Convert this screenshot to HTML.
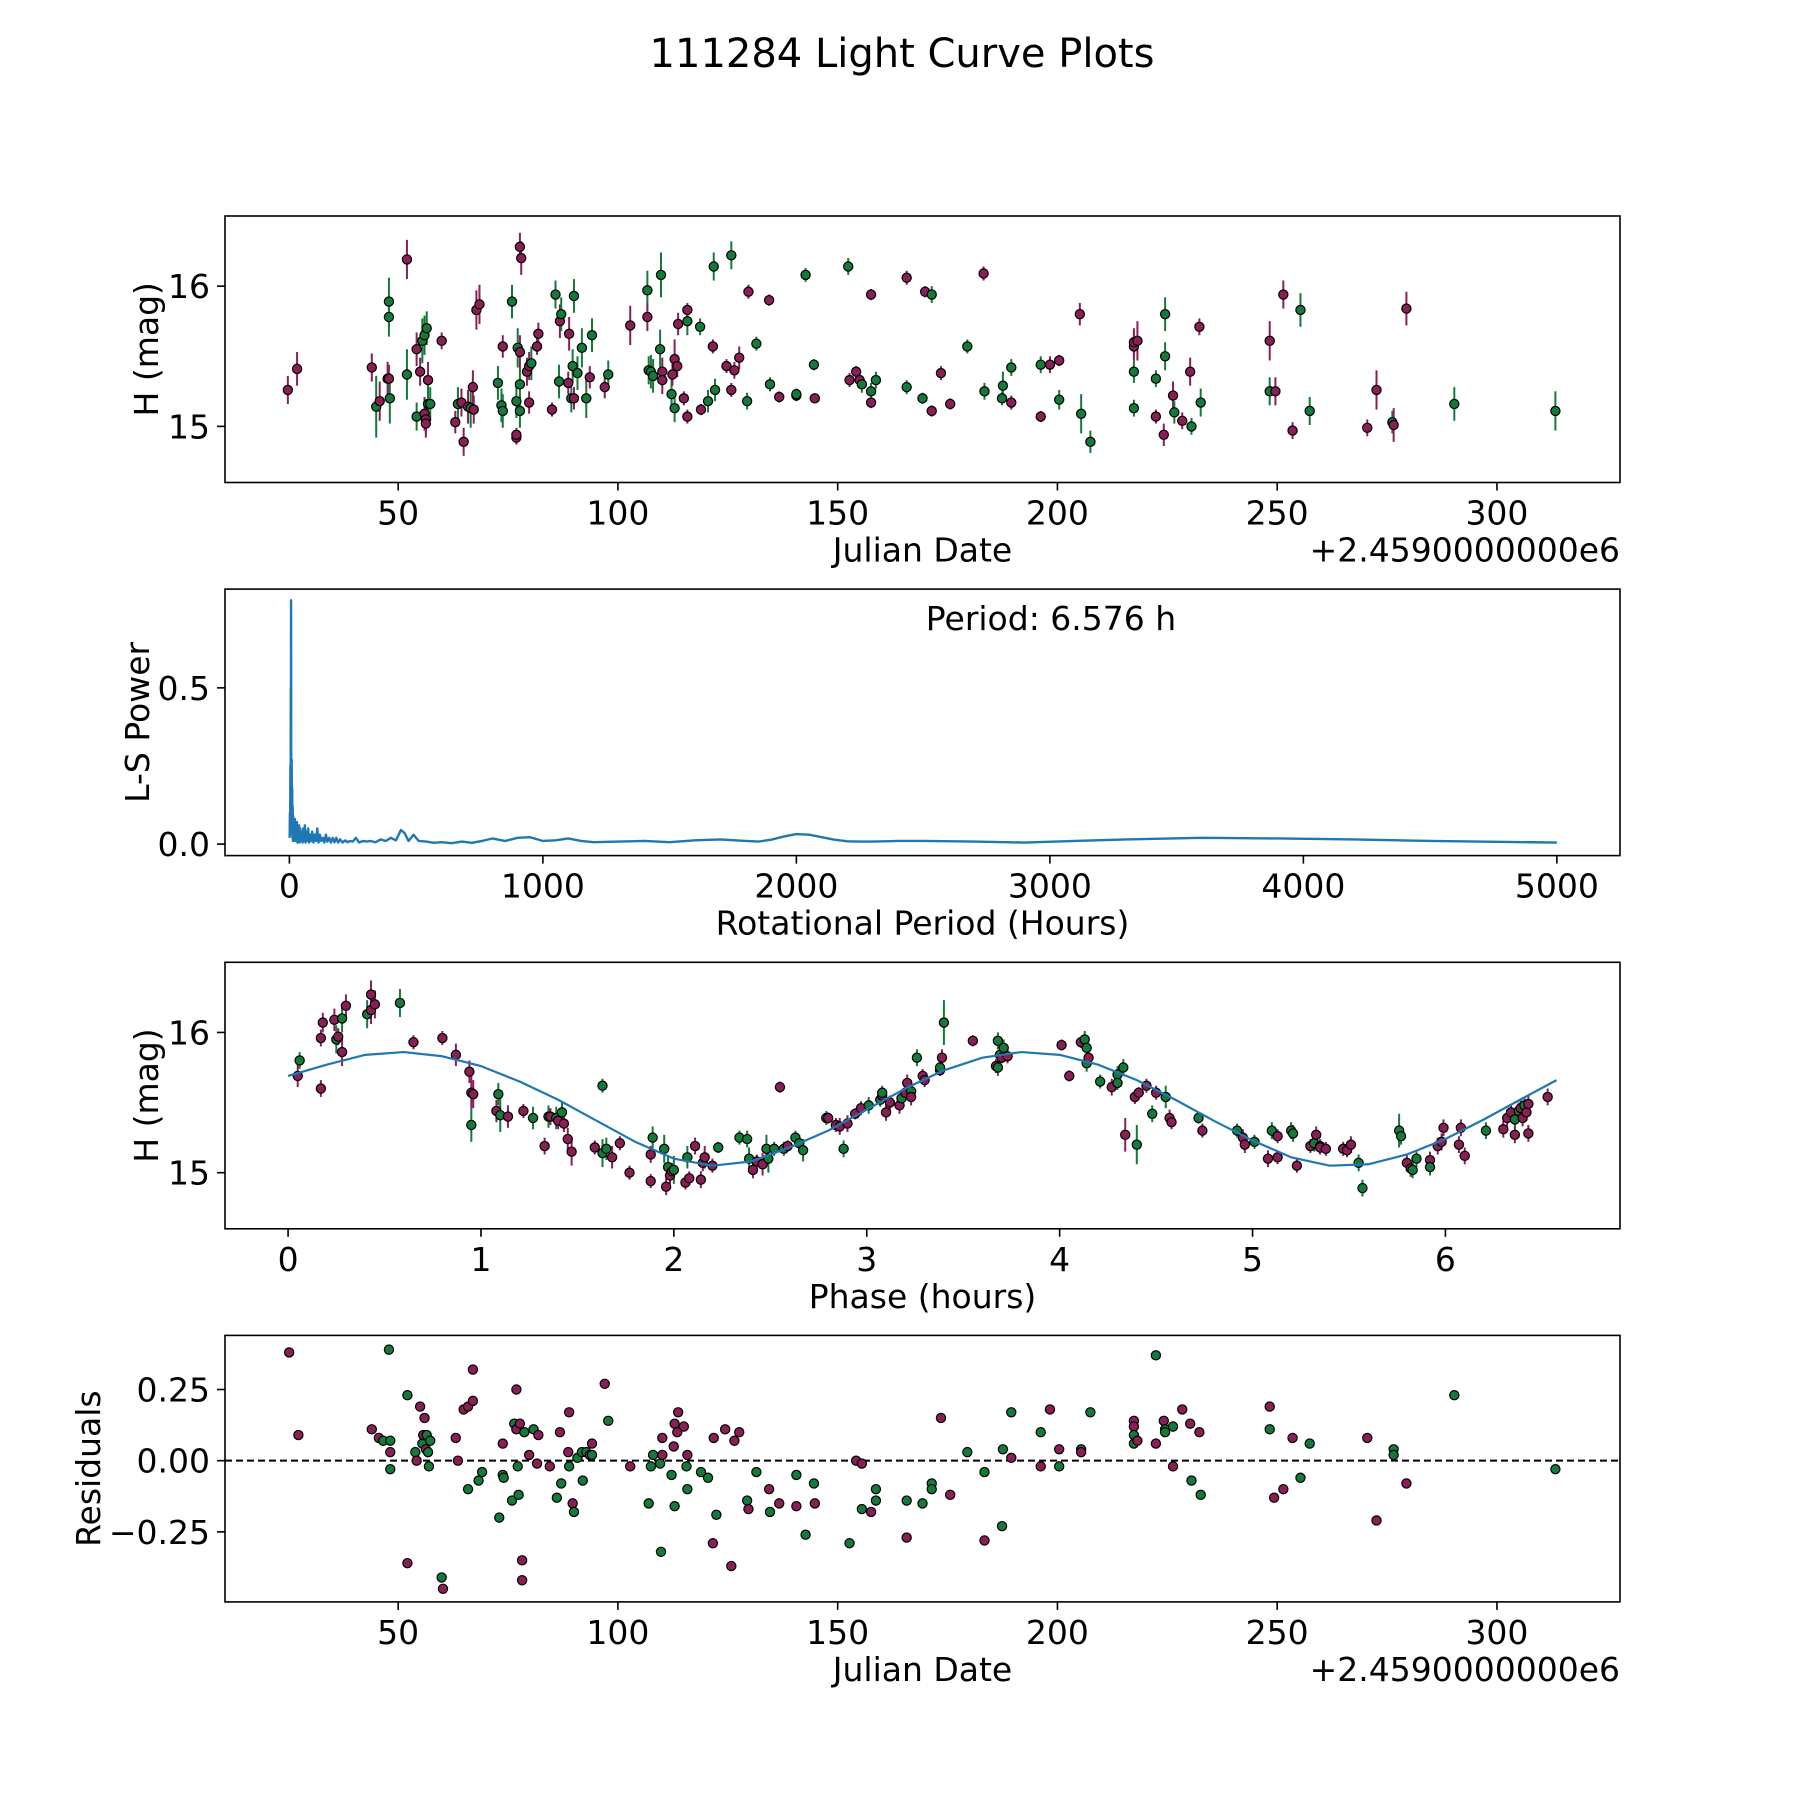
<!DOCTYPE html>
<html><head><meta charset="utf-8"><style>
html,body{margin:0;padding:0;background:#fff;}
svg{display:block;font-family:"DejaVu Sans","Liberation Sans",sans-serif;}
</style></head><body>
<svg id="fig" width="1800" height="1800" viewBox="0 0 1800 1800" xmlns="http://www.w3.org/2000/svg">
<rect width="1800" height="1800" fill="#fff"/>
<text x="902" y="67" font-size="40" text-anchor="middle">111284 Light Curve Plots</text>
</svg>
<script>
// ---------- data ----------
const lcJD = [24.9,27.0,44.0,45.0,45.8,47.6,47.9,47.9,47.9,48.1,52.0,52.0,54.2,54.2,55.0,55.5,56.0,56.0,56.3,56.3,56.5,56.8,56.8,57.3,59.9,63.0,63.6,64.4,64.9,65.9,66.5,67.0,67.2,67.8,68.5,72.7,73.5,73.8,73.8,75.9,76.9,76.9,76.9,77.2,77.7,78.0,77.7,77.7,77.7,79.3,79.8,79.8,80.3,81.6,81.9,85.0,85.8,86.6,86.8,87.1,88.7,88.9,89.4,89.7,90.0,90.0,90.8,91.8,92.8,93.6,94.1,97.0,97.8,102.8,106.7,106.7,107.0,107.5,108.0,109.6,109.8,110.1,110.1,112.2,112.4,112.9,112.9,113.5,113.7,115.0,115.8,115.8,115.8,118.7,118.9,120.5,121.6,121.8,122.1,124.7,125.8,125.8,126.5,127.6,129.4,129.7,131.5,134.4,134.6,136.7,140.6,140.6,142.7,144.6,144.8,152.4,152.7,154.2,155.0,155.5,157.6,157.6,158.7,157.6,165.7,165.7,169.3,169.9,171.4,171.4,173.5,175.6,179.5,183.2,183.4,187.4,187.6,189.5,189.5,196.2,196.2,198.3,200.4,200.4,205.1,205.4,207.5,217.4,217.4,217.4,217.4,218.2,222.4,222.4,224.2,224.5,224.5,226.3,226.6,228.4,230.2,230.5,232.3,232.6,248.3,248.3,249.6,251.4,253.5,255.3,257.4,270.5,272.6,276.2,276.5,279.4,290.3,313.3];
const lcMag = [15.26,15.41,15.42,15.14,15.18,15.34,15.34,15.78,15.89,15.20,16.19,15.37,15.55,15.07,15.39,15.61,15.65,15.09,15.05,15.02,15.70,15.33,15.16,15.16,15.61,15.03,15.16,15.17,14.89,15.14,15.13,15.28,15.12,15.83,15.87,15.31,15.15,15.11,15.57,15.89,14.92,14.94,15.18,15.56,16.28,16.20,15.53,15.30,15.11,15.39,15.43,15.17,15.45,15.57,15.66,15.12,15.94,15.32,15.75,15.80,15.31,15.66,15.20,15.43,15.93,15.20,15.38,15.56,15.20,15.35,15.65,15.28,15.37,15.72,15.97,15.78,15.40,15.39,15.36,15.55,16.08,15.39,15.33,15.23,15.37,15.13,15.48,15.43,15.73,15.20,15.07,15.75,15.83,15.71,15.12,15.18,15.57,16.14,15.26,15.43,15.26,16.22,15.40,15.49,15.18,15.96,15.59,15.90,15.30,15.21,15.22,15.23,16.08,15.44,15.20,16.14,15.33,15.39,15.33,15.30,15.17,15.25,15.33,15.94,16.06,15.28,15.20,15.96,15.11,15.94,15.38,15.16,15.57,16.09,15.25,15.20,15.29,15.17,15.42,15.07,15.44,15.44,15.47,15.19,15.80,15.09,14.89,15.57,15.60,15.39,15.13,15.61,15.34,15.07,14.94,15.80,15.50,15.22,15.10,15.04,15.39,15.00,15.71,15.17,15.61,15.25,15.25,15.94,14.97,15.83,15.11,14.99,15.26,15.03,15.01,15.84,15.16,15.11];
const lcErr = [0.1,0.12,0.1,0.22,0.14,0.12,0.1,0.14,0.17,0.18,0.14,0.18,0.12,0.1,0.1,0.16,0.14,0.12,0.1,0.1,0.12,0.13,0.14,0.12,0.06,0.08,0.12,0.1,0.1,0.12,0.14,0.12,0.1,0.14,0.14,0.12,0.12,0.12,0.08,0.12,0.05,0.05,0.12,0.14,0.1,0.12,0.12,0.12,0.12,0.1,0.1,0.08,0.12,0.06,0.08,0.05,0.1,0.12,0.12,0.12,0.08,0.12,0.1,0.12,0.12,0.08,0.12,0.14,0.14,0.08,0.12,0.08,0.1,0.14,0.14,0.1,0.1,0.12,0.12,0.14,0.16,0.1,0.1,0.12,0.08,0.1,0.14,0.08,0.08,0.05,0.05,0.1,0.05,0.06,0.04,0.08,0.05,0.1,0.08,0.05,0.05,0.1,0.06,0.08,0.06,0.05,0.05,0.04,0.05,0.04,0.04,0.04,0.05,0.04,0.03,0.06,0.05,0.04,0.05,0.06,0.04,0.06,0.06,0.04,0.05,0.05,0.04,0.04,0.04,0.06,0.05,0.04,0.05,0.05,0.06,0.05,0.1,0.05,0.06,0.04,0.06,0.06,0.04,0.07,0.08,0.14,0.08,0.1,0.1,0.08,0.06,0.14,0.06,0.05,0.08,0.12,0.1,0.1,0.08,0.06,0.1,0.06,0.06,0.1,0.14,0.1,0.1,0.1,0.06,0.12,0.1,0.06,0.14,0.08,0.12,0.12,0.12,0.14];
const lcBandHead = "pppgpppggg"+"pgpgpggppp"+"gpggppgppp"+"gppppgggpg"+"ppggpppggp"+"ppgpppggpg"+"ppgggpgggp"+"gpgpgpgggg"+"gppgpgpppp"+"pgpgpgpggp"+"pgppgpgpgp"+"pgggpgpppg"+"pggppggppg"+"ppgpgggpgp"+"gppgpggppg"+"gpgppggpgp"+"pgpgpgpgpp"+"pggppgpgpp"+"ggpgg";
const lcBandTail = "pgpppggppgppgg";
const lcBand = lcBandHead.slice(0, lcJD.length - lcBandTail.length) + lcBandTail;

const phX = [0.05,0.06,0.17,0.17,0.18,0.24,0.25,0.26,0.28,0.28,0.30,0.41,0.43,0.43,0.45,0.58,0.65,0.80,0.87,0.94,0.95,0.96,0.95,1.08,1.09,1.10,1.14,1.22,1.27,1.33,1.35,1.36,1.39,1.40,1.42,1.43,1.45,1.47,1.59,1.63,1.63,1.65,1.68,1.72,1.77,1.88,1.88,1.89,1.95,1.96,1.97,1.98,1.99,2.00,2.06,2.07,2.08,2.11,2.14,2.15,2.16,2.20,2.23,2.34,2.38,2.39,2.41,2.43,2.46,2.48,2.49,2.52,2.55,2.57,2.59,2.63,2.65,2.67,2.79,2.80,2.84,2.86,2.88,2.90,2.94,2.97,3.01,3.07,3.08,3.08,3.10,3.12,3.17,3.18,3.20,3.21,3.23,3.23,3.26,3.29,3.30,3.38,3.38,3.39,3.40,3.55,3.67,3.68,3.68,3.69,3.70,3.71,3.73,4.01,4.05,4.11,4.13,4.14,4.14,4.15,4.21,4.27,4.30,4.30,4.33,4.34,4.39,4.40,4.41,4.45,4.48,4.50,4.55,4.57,4.58,4.72,4.74,4.92,4.95,4.96,5.01,5.08,5.10,5.13,5.13,5.20,5.21,5.23,5.30,5.32,5.33,5.35,5.35,5.38,5.47,5.49,5.51,5.55,5.57,5.76,5.77,5.80,5.82,5.83,5.85,5.92,5.92,5.96,5.98,5.99,6.07,6.08,6.10,6.21,6.30,6.32,6.34,6.36,6.36,6.38,6.39,6.40,6.41,6.42,6.43,6.43,6.53];
const phMag = [15.69,15.80,15.60,15.96,16.07,16.09,15.95,15.97,16.10,15.86,16.19,16.13,16.16,16.27,16.20,16.21,15.93,15.96,15.84,15.72,15.57,15.56,15.34,15.44,15.56,15.41,15.40,15.44,15.39,15.19,15.40,15.40,15.39,15.37,15.43,15.35,15.24,15.15,15.18,15.62,15.14,15.17,15.11,15.21,15.00,15.13,14.94,15.25,15.17,14.90,15.04,14.98,15.01,15.02,14.93,15.11,14.96,15.19,14.95,15.07,15.11,15.05,15.18,15.25,15.24,15.10,15.02,15.08,15.06,15.17,15.10,15.17,15.61,15.17,15.19,15.25,15.21,15.16,15.39,15.39,15.34,15.33,15.17,15.35,15.42,15.46,15.48,15.52,15.55,15.57,15.43,15.50,15.48,15.53,15.57,15.64,15.58,15.54,15.82,15.69,15.66,15.73,15.75,15.82,16.07,15.94,15.76,15.75,15.94,15.84,15.82,15.89,15.83,15.91,15.69,15.93,15.95,15.89,15.78,15.82,15.65,15.61,15.70,15.64,15.75,15.27,15.54,15.20,15.57,15.62,15.42,15.57,15.54,15.39,15.36,15.39,15.30,15.30,15.25,15.20,15.22,15.10,15.30,15.11,15.26,15.30,15.28,15.05,15.19,15.21,15.27,15.19,15.18,15.17,15.17,15.16,15.20,15.07,14.89,15.30,15.26,15.07,15.03,15.02,15.10,15.09,15.04,15.19,15.22,15.32,15.20,15.32,15.12,15.30,15.31,15.39,15.43,15.38,15.27,15.44,15.46,15.39,15.48,15.43,15.49,15.28,15.54];
const phBand = "pgppppgpgp"+"pgpppgpppp"+"ppgpggppgp"+"gpgpgppppg"+"ggpppppggp"+"gppgpgpppp"+"ppggggpppg"+"ggpgpggggp"+"ppgpppggpg"+"pppgppgpgp"+"ppgpgppggg"+"pgppppgggp"+"gpgggppgpp"+"gpgppgpgpp"+"gpgppggppg"+"pgpppppggg"+"gppggpgppp"+"pppgpppgpg"+"ppgpppp";
const phErr = [0.08,0.06,0.06,0.06,0.07,0.08,0.1,0.06,0.1,0.1,0.08,0.1,0.1,0.1,0.1,0.1,0.05,0.05,0.08,0.08,0.12,0.1,0.12,0.08,0.08,0.12,0.08,0.05,0.08,0.06,0.08,0.06,0.08,0.06,0.08,0.06,0.08,0.1,0.05,0.05,0.1,0.08,0.08,0.05,0.05,0.06,0.05,0.08,0.1,0.06,0.08,0.06,0.06,0.1,0.05,0.08,0.05,0.06,0.06,0.06,0.08,0.05,0.04,0.05,0.06,0.08,0.06,0.05,0.08,0.1,0.1,0.05,0.04,0.05,0.04,0.05,0.06,0.08,0.05,0.04,0.05,0.06,0.06,0.06,0.04,0.05,0.06,0.05,0.06,0.05,0.06,0.05,0.06,0.06,0.06,0.06,0.06,0.06,0.06,0.05,0.05,0.04,0.05,0.06,0.16,0.04,0.05,0.06,0.06,0.06,0.04,0.06,0.05,0.04,0.04,0.04,0.06,0.08,0.06,0.05,0.05,0.06,0.06,0.05,0.06,0.12,0.05,0.14,0.04,0.05,0.06,0.05,0.08,0.06,0.05,0.04,0.05,0.05,0.06,0.06,0.05,0.06,0.06,0.05,0.05,0.06,0.06,0.05,0.05,0.06,0.06,0.05,0.05,0.05,0.05,0.05,0.06,0.06,0.06,0.12,0.06,0.06,0.06,0.06,0.06,0.06,0.06,0.06,0.06,0.06,0.06,0.06,0.06,0.06,0.06,0.06,0.06,0.06,0.06,0.06,0.06,0.06,0.06,0.06,0.06,0.06,0.06];

const fitPhase = [0,0.2,0.4,0.6,0.8,1.0,1.2,1.4,1.6,1.8,2.0,2.2,2.4,2.6,2.8,3.0,3.2,3.4,3.6,3.8,4.0,4.2,4.4,4.6,4.8,5.0,5.2,5.4,5.6,5.8,6.0,6.2,6.4,6.576];
const fitMag = [15.69,15.77,15.84,15.86,15.83,15.76,15.65,15.52,15.37,15.22,15.10,15.05,15.08,15.18,15.30,15.45,15.60,15.73,15.82,15.86,15.84,15.77,15.66,15.52,15.37,15.23,15.11,15.05,15.06,15.13,15.24,15.38,15.53,15.66];

const lsPeriod = [1,2,3,4,5,5.5,6,6.3,6.576,6.9,7.3,8,9,10,11,12,13,14,15,16,17,18,19,20,22,24,26,28,30,32,34,36,38,40,43,46,49,52,55,58,61,64,67,70,74,78,82,86,90,95,100,105,110,115,120,126,132,138,144,150,157,164,171,178,185,192,200,210,220,230,240,250,262,275,290,305,320,340,360,380,400,420,440,455,470,490,510,540,570,600,640,680,720,760,800,850,900,950,1000,1050,1100,1150,1200,1300,1400,1500,1600,1700,1800,1850,1900,1950,2000,2050,2100,2150,2200,2250,2300,2400,2500,2700,2900,3100,3300,3600,3900,4200,4500,4800,5000];
const lsPower = [0.02,0.1,0.04,0.25,0.08,0.5,0.28,0.62,0.78,0.55,0.2,0.04,0.27,0.03,0.18,0.02,0.12,0.01,0.09,0.02,0.07,0.01,0.06,0.01,0.08,0.01,0.05,0.01,0.07,0.005,0.05,0.01,0.06,0.005,0.05,0.01,0.04,0.005,0.05,0.01,0.06,0.005,0.04,0.01,0.05,0.005,0.03,0.01,0.04,0.005,0.03,0.01,0.05,0.005,0.03,0.01,0.02,0.005,0.03,0.008,0.02,0.005,0.02,0.006,0.02,0.005,0.015,0.005,0.012,0.006,0.01,0.008,0.02,0.005,0.01,0.008,0.01,0.006,0.015,0.01,0.02,0.012,0.045,0.035,0.01,0.03,0.01,0.008,0.004,0.006,0.003,0.008,0.004,0.01,0.018,0.01,0.02,0.022,0.01,0.012,0.018,0.01,0.006,0.008,0.01,0.006,0.012,0.015,0.01,0.008,0.014,0.024,0.032,0.03,0.022,0.014,0.009,0.008,0.008,0.01,0.01,0.008,0.005,0.01,0.015,0.02,0.018,0.015,0.01,0.007,0.005];

const resJD = [25.2,27.3,44.0,45.6,46.6,47.9,48.2,48.2,48.2,52.1,52.1,53.9,54.2,55.0,55.5,55.7,56.0,56.3,56.5,56.8,57.0,57.3,59.9,60.2,63.1,63.6,64.9,65.9,65.9,67.0,67.0,68.3,69.1,73.0,73.8,73.8,74.0,75.9,76.4,76.9,76.9,77.2,77.4,77.7,78.2,78.2,78.7,79.8,80.8,81.6,81.9,84.5,86.1,86.8,87.1,88.7,88.9,88.9,89.7,90.0,90.8,91.8,92.0,92.8,93.6,94.1,94.1,97.0,97.8,102.8,107.0,107.5,108.0,109.6,109.8,110.1,110.1,112.2,112.7,112.9,112.9,113.5,113.7,115.0,115.6,115.8,115.8,118.9,120.5,121.6,121.8,122.4,124.4,125.8,126.5,127.6,129.4,129.7,131.5,134.4,134.6,136.7,140.6,140.6,142.7,144.6,144.8,152.7,154.2,155.5,155.5,157.6,158.7,158.7,165.7,165.7,169.3,171.4,171.4,173.5,175.6,179.5,183.4,183.4,187.4,187.6,189.5,189.5,196.2,196.2,198.3,200.4,200.4,205.4,205.4,207.5,217.4,217.4,217.4,217.4,218.2,222.4,222.4,224.2,224.5,224.5,226.3,226.3,228.4,230.2,230.5,232.3,232.6,248.3,248.3,249.3,251.4,253.5,255.3,257.4,270.5,272.6,276.5,276.5,279.4,290.3,313.3];
const resVal = [0.38,0.09,0.11,0.08,0.07,0.39,0.07,0.03,-0.03,0.23,-0.36,0.03,0.00,0.19,0.06,0.09,0.15,0.04,0.09,0.03,-0.02,0.07,-0.41,-0.45,0.08,0.00,0.18,0.19,-0.10,0.32,0.21,-0.07,-0.04,-0.20,-0.05,0.06,-0.06,-0.14,0.13,0.25,0.11,-0.02,-0.12,0.13,-0.35,-0.42,0.10,0.02,0.11,-0.01,0.09,-0.02,-0.13,0.10,-0.08,0.03,-0.02,0.17,-0.15,-0.18,0.01,0.03,-0.07,0.03,0.02,0.06,0.02,0.27,0.14,-0.02,-0.15,-0.02,0.02,-0.01,-0.32,0.08,0.02,-0.05,0.05,-0.16,0.13,0.10,0.17,0.12,-0.02,-0.10,0.02,-0.04,-0.06,-0.29,0.08,-0.19,0.11,-0.37,0.07,0.10,-0.14,-0.17,-0.04,-0.10,-0.18,-0.15,-0.05,-0.16,-0.26,-0.08,-0.15,-0.29,0.00,-0.01,-0.17,-0.18,-0.10,-0.14,-0.14,-0.27,-0.15,-0.08,-0.10,0.15,-0.12,0.03,-0.04,-0.28,-0.23,0.04,0.17,0.01,0.10,-0.02,0.18,0.04,-0.02,0.04,0.03,0.17,0.14,0.12,0.09,0.06,0.07,0.37,0.06,0.14,0.11,0.10,0.12,-0.02,0.18,0.13,-0.07,0.10,-0.12,0.19,0.11,-0.13,-0.10,0.08,-0.06,0.06,0.08,-0.21,0.04,0.02,-0.08,0.23,-0.03];
const resBandHead = "ppppgggpgg"+"pgppgpppgg"+"gggpppppgp"+"pggggpgggp"+"pggpppgpgp"+"ppgpgpgppg"+"ggggppgpgp"+"gggggppgpg"+"ppppggpggp"+"pgppppgpgp"+"gpgpggpgpp"+"gpgggpgggp"+"pggpgggpgp"+"ppggpgppgg"+"pgppgggppp"+"gpgpgpppgg"+"ppggpgg";
const resBandTail = "pgpppggppggpgg";
const resBand = resBandHead.slice(0, resJD.length - resBandTail.length) + resBandTail;

// ---------- helpers ----------
const SVGNS = "http://www.w3.org/2000/svg";
const fig = document.getElementById('fig');
const PURPLE = "#8a1f56", GREEN = "#137a3a", BLUE = "#1f77b4";
function el(tag, attrs, parent) {
  const e = document.createElementNS(SVGNS, tag);
  for (const k in attrs) e.setAttribute(k, attrs[k]);
  (parent || fig).appendChild(e);
  return e;
}
const L = 225, R = 1620, W = R - L, H = 266.5;
const tops = [216, 589.1, 962.3, 1335.4];
function scale(d0, d1, r0, r1) { return v => r0 + (v - d0) / (d1 - d0) * (r1 - r0); }
const FS = 33;

function axesFrame(top, name) {
  const g = el('g', {});
  
  
  return g;
}
function drawBorder(g, top) {
  const r = el('rect', {x: L, y: top, width: W, height: H, fill: 'none', stroke: '#000', 'stroke-width': 1.6}, g);
  
  
}
function xTicks(g, top, ticks, labels, sx) {
  ticks.forEach((t, i) => {
    const x = sx(t);
    el('line', {x1: x, y1: top + H, x2: x, y2: top + H + 8, stroke: '#000', 'stroke-width': 1.6}, g);
    const tx = el('text', {x: x, y: top + H + 42, 'font-size': FS, 'text-anchor': 'middle'}, g);
    
    
    tx.textContent = labels[i];
  });
}
function yTicks(g, top, ticks, labels, sy) {
  ticks.forEach((t, i) => {
    const y = sy(t);
    el('line', {x1: L - 8, y1: y, x2: L, y2: y, stroke: '#000', 'stroke-width': 1.6}, g);
    const tx = el('text', {x: L - 15, y: y + 12, 'font-size': FS, 'text-anchor': 'end'}, g);
    
    
    tx.textContent = labels[i];
  });
}
function xLabel(g, top, text, name) {
  const t = el('text', {x: L + W / 2, y: top + H + 79, 'font-size': FS, 'text-anchor': 'middle'}, g);
  
  
  t.textContent = text;
}
function yLabel(g, top, text, x, name) {
  const cy = top + H / 2;
  const t = el('text', {x: x, y: cy, 'font-size': FS, 'text-anchor': 'middle', transform: `rotate(-90 ${x} ${cy})`}, g);
  
  
  t.textContent = text;
}
function offsetText(g, top) {
  const t = el('text', {x: R, y: top + H + 79, 'font-size': FS, 'text-anchor': 'end'}, g);
  
  
  t.textContent = '+2.4590000000e6';
}
function errPoints(g, xs, ys, errs, bands, sx, sy, name) {
  const eg = el('g', {}, g), pg = el('g', {}, g);
  xs.forEach((v, i) => {
    const c = bands[i] === 'g' ? GREEN : PURPLE;
    const x = sx(v), y = sy(ys[i]);
    if (errs) {
      const e = el('line', {x1: x, y1: sy(ys[i] - errs[i]), x2: x, y2: sy(ys[i] + errs[i]), stroke: c, 'stroke-width': 2}, eg);
      
      
    }
    const p = el('circle', {cx: x, cy: y, r: 4.6, fill: c, stroke: '#000', 'stroke-width': 1.2}, pg);
    
    
  });
}

// ---------- panel 1: light curve ----------
(function () {
  const top = tops[0];
  const g = axesFrame(top, 'light-curve-axes');
  const sx = scale(10.6, 328, L, R), sy = scale(14.6, 16.5, top + H, top);
  const clip = el('clipPath', {id: 'c1'}, g); el('rect', {x: L, y: top, width: W, height: H}, clip);
  const dg = el('g', {'clip-path': 'url(#c1)'}, g);
  errPoints(dg, lcJD, lcMag, lcErr, lcBand, sx, sy, 'observation-point');
  drawBorder(g, top);
  xTicks(g, top, [50,100,150,200,250,300], ['50','100','150','200','250','300'], sx);
  yTicks(g, top, [15,16], ['15','16'], sy);
  xLabel(g, top, 'Julian Date', 'x-axis-title');
  yLabel(g, top, 'H (mag)', 158, 'y-axis-title');
  offsetText(g, top);
})();

// ---------- panel 2: periodogram ----------
(function () {
  const top = tops[1];
  const g = axesFrame(top, 'periodogram-axes');
  const sx = scale(-254, 5249, L, R), sy = scale(-0.0368, 0.816, top + H, top);
  const pts = lsPeriod.map((p, i) => `${sx(p).toFixed(2)},${sy(lsPower[i]).toFixed(2)}`).join(' ');
  const pl = el('polyline', {points: pts, fill: 'none', stroke: BLUE, 'stroke-width': 2.4, 'stroke-linejoin': 'round'}, g);
  
  
  drawBorder(g, top);
  xTicks(g, top, [0,1000,2000,3000,4000,5000], ['0','1000','2000','3000','4000','5000'], sx);
  yTicks(g, top, [0,0.5], ['0.0','0.5'], sy);
  xLabel(g, top, 'Rotational Period (Hours)', 'x-axis-title');
  yLabel(g, top, 'L-S Power', 149, 'y-axis-title');
  const pt = el('text', {x: 1051, y: 630, 'font-size': FS, 'text-anchor': 'middle'}, g);
  
  
  pt.textContent = 'Period: 6.576 h';
})();

// ---------- panel 3: phased ----------
(function () {
  const top = tops[2];
  const g = axesFrame(top, 'phase-curve-axes');
  const sx = scale(-0.327, 6.905, L, R), sy = scale(14.6, 16.5, top + H, top);
  const clip = el('clipPath', {id: 'c3'}, g); el('rect', {x: L, y: top, width: W, height: H}, clip);
  const dg = el('g', {'clip-path': 'url(#c3)'}, g);
  errPoints(dg, phX, phMag, phErr, phBand, sx, sy, 'phased-point');
  const pts = fitPhase.map((p, i) => `${sx(p).toFixed(2)},${sy(fitMag[i]).toFixed(2)}`).join(' ');
  const fl = el('polyline', {points: pts, fill: 'none', stroke: BLUE, 'stroke-width': 2.2, 'stroke-linejoin': 'round'}, dg);
  
  
  drawBorder(g, top);
  xTicks(g, top, [0,1,2,3,4,5,6], ['0','1','2','3','4','5','6'], sx);
  yTicks(g, top, [15,16], ['15','16'], sy);
  xLabel(g, top, 'Phase (hours)', 'x-axis-title');
  yLabel(g, top, 'H (mag)', 158, 'y-axis-title');
})();

// ---------- panel 4: residuals ----------
(function () {
  const top = tops[3];
  const g = axesFrame(top, 'residuals-axes');
  const sx = scale(10.6, 328, L, R), sy = scale(-0.496, 0.44, top + H, top);
  const zl = el('line', {x1: L, y1: sy(0), x2: R, y2: sy(0), stroke: '#000', 'stroke-width': 2, 'stroke-dasharray': '7,4'}, g);
  
  
  errPoints(g, resJD, resVal, null, resBand, sx, sy, 'residual-point');
  drawBorder(g, top);
  xTicks(g, top, [50,100,150,200,250,300], ['50','100','150','200','250','300'], sx);
  yTicks(g, top, [-0.25,0,0.25], ['\u22120.25','0.00','0.25'], sy);
  xLabel(g, top, 'Julian Date', 'x-axis-title');
  yLabel(g, top, 'Residuals', 100, 'y-axis-title');
  offsetText(g, top);
})();
</script>
</body></html>
